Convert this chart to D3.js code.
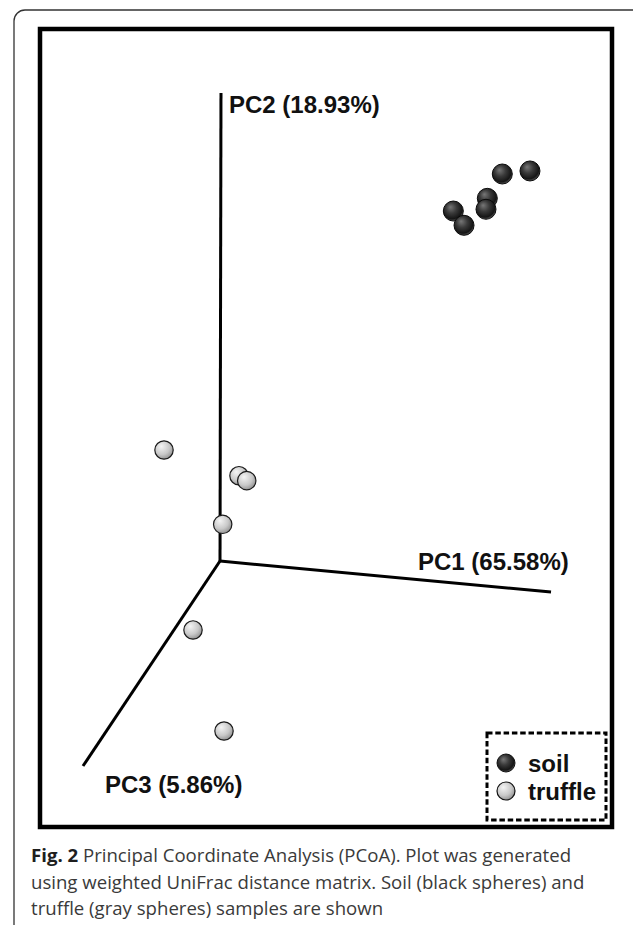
<!DOCTYPE html>
<html lang="en">
<head>
  <meta charset="UTF-8">
  <title>PCoA</title>
  <script src="https://d3js.org/d3.v7.min.js"></script>
  <style>
    body { margin: 0; background: #fff; }
  </style>
</head>
<body>
  <div id="my_dataviz"></div>
  <script>

    // plot units: 0-100 across the inner black frame (projected PCoA view)
    var axisOrigin = [31.47, 33.33];
    var axisNames = ["PC1 (65.58%)", "PC2 (18.93%)", "PC3 (5.86%)"];
    var axisEndX = [89.34, 31.64, 7.52];
    var axisEndY = [29.45, 91.98, 7.64];

    var soilX = [80.82, 85.66, 78.20, 77.97, 72.26, 74.13];
    var soilY = [81.83, 82.21, 78.78, 77.41, 77.19, 75.40];

    var truffleX = [21.68, 34.79, 36.14, 31.94, 26.75, 32.17];
    var truffleY = [47.24, 44.02, 43.40, 37.93, 24.69, 12.03];

    var legendLabels = ["soil", "truffle"];
    var captionBold = "Fig. 2";
    var captionLines = [
      " Principal Coordinate Analysis (PCoA). Plot was generated",
      "using weighted UniFrac distance matrix. Soil (black spheres) and",
      "truffle (gray spheres) samples are shown"
    ];

    var W = 633, H = 925;
    var box = { left: 40, right: 612, top: 29, bottom: 827 };

    var svg = d3.select("#my_dataviz")
      .append("svg")
      .attr("width", W)
      .attr("height", H);

    var defs = svg.append("defs");
    var gSoil = defs.append("radialGradient").attr("id", "soilGrad")
      .attr("cx", "45%").attr("cy", "40%").attr("r", "60%")
      .attr("fx", "35%").attr("fy", "30%");
    gSoil.append("stop").attr("offset", "0%").attr("stop-color", "#777");
    gSoil.append("stop").attr("offset", "45%").attr("stop-color", "#3a3a3a");
    gSoil.append("stop").attr("offset", "85%").attr("stop-color", "#151515");
    gSoil.append("stop").attr("offset", "100%").attr("stop-color", "#555");

    var gTruf = defs.append("radialGradient").attr("id", "trufGrad")
      .attr("cx", "40%").attr("cy", "35%").attr("r", "70%")
      .attr("fx", "35%").attr("fy", "30%");
    gTruf.append("stop").attr("offset", "0%").attr("stop-color", "#f4f4f4");
    gTruf.append("stop").attr("offset", "60%").attr("stop-color", "#c8c8c8");
    gTruf.append("stop").attr("offset", "100%").attr("stop-color", "#8c8c8c");

    // outer page frame (rounded, runs off the page)
    svg.append("rect")
      .attr("x", 14).attr("y", 10)
      .attr("width", W + 20).attr("height", H + 20)
      .attr("rx", 11)
      .attr("fill", "none")
      .attr("stroke", "#333")
      .attr("stroke-width", 1.3);

    // inner black frame
    svg.append("rect")
      .attr("x", box.left).attr("y", box.top)
      .attr("width", box.right - box.left)
      .attr("height", box.bottom - box.top)
      .attr("fill", "none")
      .attr("stroke", "#000")
      .attr("stroke-width", 4.5);

    var x = d3.scaleLinear().domain([0, 100]).range([box.left, box.right]);
    var y = d3.scaleLinear().domain([0, 100]).range([box.bottom, box.top]);

    // axes
    var axes = axisNames.map(function (n, i) {
      return { name: n, x: axisEndX[i], y: axisEndY[i] };
    });
    svg.append("g")
      .selectAll("line")
      .data(axes)
      .enter()
      .append("line")
      .attr("x1", x(axisOrigin[0]))
      .attr("y1", y(axisOrigin[1]))
      .attr("x2", function (d) { return x(d.x); })
      .attr("y2", function (d) { return y(d.y); })
      .attr("stroke", "#000")
      .attr("stroke-width", 3)
      .attr("stroke-linecap", "butt");

    var labelFont = "'Liberation Sans', Arial, sans-serif";
    // offsets of each label from its axis end
    var labelOffsets = [[-133, -22], [8, 20], [22, 27]];
    svg.append("g")
      .selectAll("text")
      .data(axes)
      .enter()
      .append("text")
      .attr("x", function (d, i) { return x(d.x) + labelOffsets[i][0]; })
      .attr("y", function (d, i) { return y(d.y) + labelOffsets[i][1]; })
      .attr("font-family", labelFont)
      .attr("font-weight", "bold")
      .attr("font-size", 24)
      .attr("fill", "#111")
      .text(function (d) { return d.name; });

    // samples
    var soil = soilX.map(function (v, i) { return { x: v, y: soilY[i] }; });
    var truffle = truffleX.map(function (v, i) { return { x: v, y: truffleY[i] }; });

    svg.append("g")
      .selectAll("circle")
      .data(truffle)
      .enter()
      .append("circle")
      .attr("cx", function (d) { return x(d.x); })
      .attr("cy", function (d) { return y(d.y); })
      .attr("r", 9.2)
      .attr("fill", "url(#trufGrad)")
      .attr("stroke", "#1a1a1a")
      .attr("stroke-width", 1.2);

    svg.append("g")
      .selectAll("circle")
      .data(soil)
      .enter()
      .append("circle")
      .attr("cx", function (d) { return x(d.x); })
      .attr("cy", function (d) { return y(d.y); })
      .attr("r", 10)
      .attr("fill", "url(#soilGrad)")
      .attr("stroke", "#0a0a0a")
      .attr("stroke-width", 1);

    // legend
    var legend = svg.append("g");
    legend.append("rect")
      .attr("x", 487).attr("y", 733)
      .attr("width", 119).attr("height", 87)
      .attr("fill", "#fff")
      .attr("stroke", "#000")
      .attr("stroke-width", 3)
      .attr("stroke-dasharray", "5.5,2.8");

    var legItems = legend.selectAll("g.item")
      .data(legendLabels)
      .enter()
      .append("g")
      .attr("class", "item")
      .attr("transform", function (d, i) { return "translate(506," + (763 + i * 28) + ")"; });

    legItems.append("circle")
      .attr("r", 9)
      .attr("fill", function (d, i) { return i === 0 ? "url(#soilGrad)" : "url(#trufGrad)"; })
      .attr("stroke", "#111")
      .attr("stroke-width", function (d, i) { return i === 0 ? 1 : 1.2; });

    legItems.append("text")
      .attr("x", 22)
      .attr("y", 9)
      .attr("font-family", labelFont)
      .attr("font-weight", "bold")
      .attr("font-size", 24)
      .attr("fill", "#111")
      .text(function (d) { return d; });

    // caption
    var cap = svg.append("text")
      .attr("font-family", "'Open Sans', 'Noto Sans', sans-serif")
      .attr("font-size", 18.6)
      .attr("fill", "#3a3a3a");

    captionLines.forEach(function (line, i) {
      if (i === 0) {
        cap.append("tspan")
          .attr("x", 31).attr("y", 862)
          .attr("font-weight", "bold")
          .attr("fill", "#1e1e1e")
          .text(captionBold);
        cap.append("tspan").text(line);
      } else {
        cap.append("tspan")
          .attr("x", 31).attr("y", 862 + i * 26.5)
          .text(line);
      }
    });

  </script>
</body>
</html>
